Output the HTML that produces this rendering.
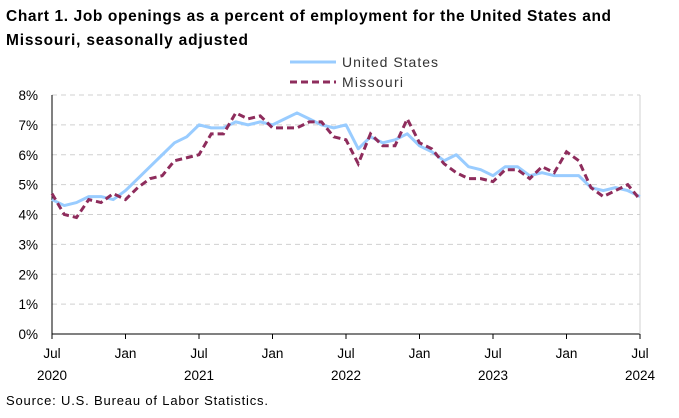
<!DOCTYPE html>
<html><head><meta charset="utf-8"><style>
body{margin:0;background:#fff;width:679px;height:413px;overflow:hidden;font-family:"Liberation Sans",sans-serif}
</style></head><body>
<svg id="chart" width="679" height="413" xmlns="http://www.w3.org/2000/svg" font-family="Liberation Sans, sans-serif">
<text x="6" y="21" font-size="15.5" font-weight="bold" fill="#000" textLength="605" lengthAdjust="spacing">Chart 1. Job openings as a percent of employment for the United States and</text>
<text x="6" y="45" font-size="15.5" font-weight="bold" fill="#000" textLength="242" lengthAdjust="spacing">Missouri, seasonally adjusted</text>
<g>
<line x1="290" y1="62" x2="336" y2="62" stroke="#99ccff" stroke-width="3"/>
<text x="342" y="67" font-size="14" fill="#333" textLength="96" lengthAdjust="spacing">United States</text>
<line x1="290" y1="82" x2="336" y2="82" stroke="#8e2c5c" stroke-width="3" stroke-dasharray="7,4"/>
<text x="342" y="87" font-size="14" fill="#333" textLength="61" lengthAdjust="spacing">Missouri</text>
</g>
<g id="grid"></g><g id="axes"></g><g id="series"></g>
<text x="6" y="405" font-size="13" fill="#000" textLength="262" lengthAdjust="spacing">Source: U.S. Bureau of Labor Statistics.</text>
</svg>
<script>
const usValues=[4.5,4.3,4.4,4.6,4.6,4.5,4.8,5.2,5.6,6.0,6.4,6.6,7.0,6.9,6.9,7.1,7.0,7.1,7.0,7.2,7.4,7.2,7.0,6.9,7.0,6.2,6.6,6.4,6.5,6.7,6.3,6.1,5.8,6.0,5.6,5.5,5.3,5.6,5.6,5.3,5.4,5.3,5.3,5.3,4.9,4.8,4.9,4.8,4.6];
const moValues=[4.7,4.0,3.9,4.5,4.4,4.7,4.5,4.9,5.2,5.3,5.8,5.9,6.0,6.7,6.7,7.4,7.2,7.3,6.9,6.9,6.9,7.1,7.1,6.6,6.5,5.7,6.7,6.3,6.3,7.2,6.4,6.2,5.7,5.4,5.2,5.2,5.1,5.5,5.5,5.2,5.6,5.4,6.1,5.8,4.9,4.6,4.8,5.0,4.5];
const yTicks=[0,1,2,3,4,5,6,7,8];
const xTickMonths=["Jul","Jan","Jul","Jan","Jul","Jan","Jul","Jan","Jul"];
const xTickYears=["2020","","2021","","2022","","2023","","2024"];
const X0=52,X1=640,Y0=334,Y8=95,NS="http://www.w3.org/2000/svg";
const xs=i=>X0+(X1-X0)*i/48, ys=v=>Y0-(Y0-Y8)*v/8;
function mk(t,a,p){const e=document.createElementNS(NS,t);for(const k in a)e.setAttribute(k,a[k]);p.appendChild(e);return e;}
const grid=document.getElementById('grid'),axes=document.getElementById('axes'),ser=document.getElementById('series');
yTicks.forEach(v=>{
 if(v>0){const l=mk('line',{x1:X0,x2:X1,y1:ys(v),y2:ys(v),stroke:'#d0d0d0','stroke-dasharray':'5,4'},grid);
 
 }
 const t=mk('text',{x:38,y:ys(v)+5,'text-anchor':'end','font-size':13.5,fill:'#000'},axes);t.textContent=v+'%';
 
 
});
const ax=mk('line',{x1:X0,x2:X0,y1:Y8,y2:Y0,stroke:'#000'},axes);


const bx=mk('line',{x1:X0,x2:X1,y1:Y0,y2:Y0,stroke:'#000'},axes);


const rx=mk('line',{x1:X1,x2:X1,y1:Y8,y2:Y0,stroke:'#d0d0d0'},axes);


xTickMonths.forEach((m,i)=>{
 const x=xs(i*6);
 const tk=mk('line',{x1:x,x2:x,y1:Y0,y2:Y0+5,stroke:'#000'},axes);
 
 
 const t=mk('text',{x:x,y:358,'text-anchor':'middle','font-size':13.5,fill:'#000'},axes);t.textContent=m;
 
 
 if(xTickYears[i]){const y=mk('text',{x:x,y:380,'text-anchor':'middle','font-size':13.5,fill:'#000'},axes);y.textContent=xTickYears[i];
 
 }
});
const us=mk('polyline',{points:usValues.map((v,i)=>xs(i)+','+ys(v)).join(' '),fill:'none',stroke:'#99ccff','stroke-width':3,'stroke-linejoin':'round'},ser);


const mo=mk('polyline',{points:moValues.map((v,i)=>xs(i)+','+ys(v)).join(' '),fill:'none',stroke:'#8e2c5c','stroke-width':3,'stroke-dasharray':'7,4'},ser);


</script>
</body></html>
